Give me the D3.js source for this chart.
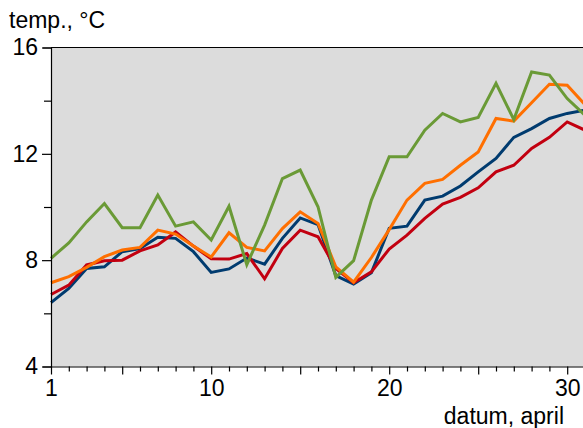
<!DOCTYPE html>
<html>
<head>
<meta charset="utf-8">
<script src="https://cdn.jsdelivr.net/npm/d3@7"></script>
<style>
  body { margin: 0; background: #fff; }
  svg { display: block; }
  text { font-family: "Liberation Sans", Arial, sans-serif; fill: #000; }
</style>
</head>
<body>
<svg id="chart"></svg>
<script>
// april days and the four temperature series
var days = d3.range(1, 32);
var xTickLabels = [1, 10, 20, 30];
var yTickLabels = [4, 8, 12, 16];

var greenSeries = [8.07, 8.65, 9.44, 10.13, 9.22, 9.22, 10.45, 9.28, 9.44, 8.76,
    10.03, 7.83, 9.32, 11.07, 11.39, 10.01, 7.35, 7.98, 10.26, 11.89,
    11.89, 12.89, 13.52, 13.2, 13.37, 14.65, 13.29, 15.08, 14.96, 14.08, 13.45];
var orangeSeries = [7.15, 7.38, 7.73, 8.13, 8.38, 8.48, 9.13, 8.98, 8.53, 8.12,
    9.03, 8.48, 8.35, 9.19, 9.82, 9.38, 7.75, 7.17, 8.1, 9.15,
    10.26, 10.89, 11.04, 11.57, 12.07, 13.33, 13.23, 13.92, 14.62, 14.58, 13.85];
var blueSeries = [6.4, 6.94, 7.69, 7.75, 8.32, 8.44, 8.86, 8.82, 8.32, 7.54,
    7.67, 8.08, 7.85, 8.82, 9.59, 9.34, 7.42, 7.1, 7.53, 9.2,
    9.28, 10.26, 10.41, 10.79, 11.32, 11.83, 12.62, 12.95, 13.33, 13.52, 13.64];
var redSeries = [6.71, 7.06, 7.82, 7.98, 8.0, 8.35, 8.57, 9.06, 8.53, 8.05,
    8.04, 8.25, 7.3, 8.44, 9.13, 8.88, 7.69, 7.15, 7.56, 8.42,
    8.94, 9.57, 10.11, 10.36, 10.72, 11.32, 11.57, 12.2, 12.62, 13.2, 12.89];

var width = 583;
var height = 428;
var margin = {top: 47.5, left: 51, bottom: 366.5};
var fontSize = "23px";

var svg = d3.select("#chart")
    .attr("width", width)
    .attr("height", height);

var xScale = d3.scaleLinear().domain([1, 31]).range([margin.left, 585]);
var yScale = d3.scaleLinear().domain([4, 16]).range([margin.bottom, margin.top]);

// grey plot area
svg.append("rect")
    .attr("x", xScale(1))
    .attr("y", yScale(16))
    .attr("width", xScale(31) + 10 - xScale(1))
    .attr("height", yScale(4) - yScale(16))
    .attr("fill", "#dcdcdc");

// top border
svg.append("line")
    .attr("x1", xScale(1)).attr("x2", width)
    .attr("y1", yScale(16)).attr("y2", yScale(16))
    .attr("stroke", "#000").attr("stroke-width", 1.2);

var lines = [
    {values: blueSeries, color: "#003b6f"},
    {values: redSeries, color: "#c20010"},
    {values: orangeSeries, color: "#ff6f00"},
    {values: greenSeries, color: "#6a9a36"}
];

var line = d3.line()
    .x(function (d, i) { return xScale(days[i]); })
    .y(function (d) { return yScale(d); });

svg.selectAll(".series")
    .data(lines)
    .enter().append("path")
    .attr("class", "series")
    .attr("d", function (d) { return line(d.values); })
    .attr("fill", "none")
    .attr("stroke", function (d) { return d.color; })
    .attr("stroke-width", 3)
    .attr("stroke-linejoin", "miter");

// y axis: minor ticks every 2, labels every 4
var yAxis = svg.append("g")
    .attr("transform", "translate(" + margin.left + ",0)");
yAxis.call(d3.axisLeft(yScale)
        .tickValues(d3.range(4, 17, 2))
        .tickSize(8)
        .tickPadding(5)
        .tickFormat(function (d) { return yTickLabels.indexOf(d) >= 0 ? d : ""; }));
yAxis.select(".domain").attr("stroke", "#000").attr("stroke-width", 1.2);
yAxis.selectAll(".tick line").attr("stroke", "#000").attr("stroke-width", 1.2)
    .attr("x2", function (d) { return yTickLabels.indexOf(d) >= 0 ? -9 : -7; });
yAxis.selectAll(".tick text")
    .attr("x", -13)
    .style("font-size", fontSize)
    .attr("font-family", "Liberation Sans, Arial, sans-serif");

// x axis: tick every day, longer every 5, labels at 1,10,20,30
var xAxis = svg.append("g")
    .attr("transform", "translate(0," + margin.bottom + ")");
xAxis.call(d3.axisBottom(xScale)
        .tickValues(days)
        .tickSize(5)
        .tickPadding(10)
        .tickFormat(function (d) { return xTickLabels.indexOf(d) >= 0 ? d : ""; }));
xAxis.select(".domain").attr("stroke", "#000").attr("stroke-width", 1.2)
    .attr("d", "M" + margin.left + ",0.5H" + width);
xAxis.selectAll(".tick line").attr("stroke", "#000").attr("stroke-width", 1.2)
    .attr("y2", function (d) { return (d === 1 || d % 5 === 0) ? 8 : 5; });
xAxis.selectAll(".tick text")
    .attr("y", 13)
    .style("font-size", fontSize)
    .attr("font-family", "Liberation Sans, Arial, sans-serif");

// axis titles
svg.append("text")
    .attr("x", 9)
    .attr("y", 28)
    .style("font-size", fontSize)
    .text("temp., °C");

svg.append("text")
    .attr("x", 564)
    .attr("y", 424)
    .attr("text-anchor", "end")
    .style("font-size", fontSize)
    .text("datum, april");
</script>
</body>
</html>
